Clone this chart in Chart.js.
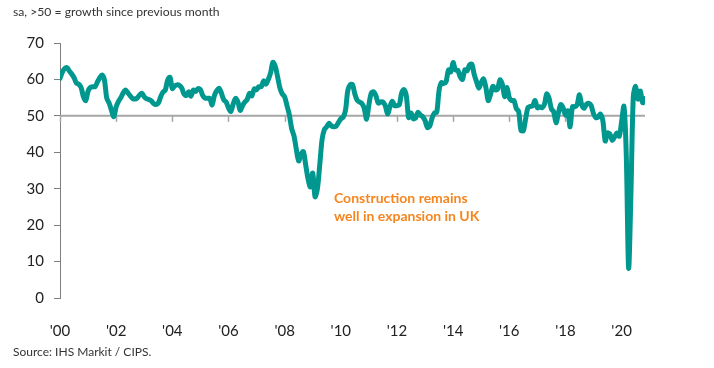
<!DOCTYPE html>
<html>
<head>
<meta charset="utf-8">
<script src="https://cdn.jsdelivr.net/npm/chart.js@4.4.1/dist/chart.umd.min.js"></script>
<style>
  html, body { margin: 0; padding: 0; background: #fff; }
  #wrap { position: relative; width: 714px; height: 368px; overflow: hidden; }
  canvas { position: absolute; left: 0; top: 0; }
  .txt { position: absolute; font-family: Lato, "Open Sans", sans-serif; color: #333; white-space: nowrap; }
  #sub { left: 13px; top: 4px; font-size: 12.2px; }
  #src { left: 13px; top: 344px; font-size: 12px; }
  #note { left: 334px; top: 189px; font-size: 14px; font-weight: bold; color: #F5861F; line-height: 18px; }
</style>
</head>
<body>
<div id="wrap">
  <canvas id="c" width="714" height="368"></canvas>
  <div class="txt" id="sub">sa, &gt;50 = growth since previous month</div>
  <div class="txt" id="note">Construction remains<br>well in expansion in UK</div>
  <div class="txt" id="src">Source: IHS Markit / CIPS.</div>
</div>
<script>
// UK construction PMI, monthly, Jan 2000 - Nov 2020 (sa)
const startYear = 2000;
const v2000 = [60.3, 62.0, 63.0, 63.2, 62.3, 61.5, 60.5, 59.0, 58.7, 57.8, 55.3, 54.2];
const v2001 = [56.8, 57.8, 58.0, 58.0, 59.3, 60.5, 61.2, 59.8, 54.8, 53.5, 51.5, 49.8];
const v2002 = [52.5, 54.0, 55.0, 56.3, 57.1, 56.3, 55.5, 54.8, 54.6, 54.9, 55.7, 56.2];
const v2003 = [55.2, 54.7, 54.5, 54.1, 53.4, 53.1, 53.5, 55.2, 56.5, 57.1, 59.8, 60.6];
const v2004 = [57.5, 58.2, 58.5, 58.4, 57.7, 56.0, 55.6, 56.6, 55.4, 57.1, 56.7, 57.5];
const v2005 = [57.2, 55.6, 54.9, 54.8, 54.8, 53.0, 55.6, 56.9, 57.6, 56.2, 54.4, 53.8];
const v2006 = [52.2, 51.2, 53.2, 54.8, 53.9, 51.5, 52.8, 53.8, 54.5, 56.2, 55.5, 57.4];
const v2007 = [57.2, 58.0, 58.0, 59.6, 58.7, 60.0, 61.8, 64.7, 63.6, 60.7, 57.6, 56.0];
const v2008 = [55.2, 52.8, 50.3, 46.5, 44.5, 40.8, 37.6, 39.5, 40.2, 36.5, 32.7, 30.5];
const v2009 = [34.3, 27.8, 30.0, 36.5, 43.5, 46.3, 47.0, 48.0, 47.2, 47.0, 47.2, 48.2];
const v2010 = [49.2, 49.6, 51.5, 57.0, 58.5, 58.6, 56.0, 54.3, 53.8, 53.4, 52.1, 49.1];
const v2011 = [53.0, 56.2, 56.6, 55.5, 53.5, 53.8, 53.8, 52.8, 50.5, 52.5, 54.0, 52.8];
const v2012 = [52.8, 53.0, 56.3, 57.2, 55.5, 49.5, 50.8, 49.2, 49.5, 51.0, 50.2, 49.8];
const v2013 = [48.7, 46.8, 47.2, 49.4, 50.8, 51.0, 57.0, 59.1, 58.9, 59.4, 62.6, 62.1];
const v2014 = [64.6, 62.6, 62.5, 60.8, 60.0, 62.6, 62.4, 64.0, 64.2, 61.4, 59.4, 57.6];
const v2015 = [59.1, 60.1, 57.8, 54.2, 55.9, 58.1, 57.1, 57.3, 59.9, 58.8, 55.3, 57.8];
const v2016 = [55.0, 54.2, 54.2, 52.0, 51.2, 46.0, 45.9, 49.2, 52.3, 52.6, 52.8, 54.2];
const v2017 = [52.2, 52.5, 52.2, 53.1, 56.0, 54.8, 51.9, 51.1, 48.1, 50.8, 53.1, 52.2];
const v2018 = [50.2, 51.4, 47.0, 52.5, 52.5, 53.1, 55.8, 52.9, 52.1, 53.2, 53.4, 52.8];
const v2019 = [50.6, 49.5, 49.7, 50.5, 48.6, 43.1, 45.3, 45.0, 43.3, 44.2, 45.3, 44.4];
const v2020 = [48.4, 52.6, 39.3, 8.2, 28.9, 55.3, 58.1, 54.6, 56.8, 53.6, 54.7];

const yTicks = [0, 10, 20, 30, 40, 50, 60, 70];
const xTickYears = [2000, 2002, 2004, 2006, 2008, 2010, 2012, 2014, 2016, 2018, 2020];
const thresholdValue = 50;

const allYears = [v2000, v2001, v2002, v2003, v2004, v2005, v2006, v2007, v2008, v2009,
  v2010, v2011, v2012, v2013, v2014, v2015, v2016, v2017, v2018, v2019, v2020];
const values = [].concat(...allYears);
const points = values.map((v, i) => ({ x: startYear + i / 12, y: v }));
const lastX = startYear + (values.length - 1) / 12;

const refLine = {
  id: 'refLine',
  beforeDatasetsDraw(chart) {
    const { ctx, chartArea, scales } = chart;
    const y = scales.y.getPixelForValue(thresholdValue);
    ctx.save();
    ctx.strokeStyle = '#a6a6a6';
    ctx.lineWidth = 2;
    ctx.beginPath();
    ctx.moveTo(chartArea.left, y);
    ctx.lineTo(chartArea.right, y);
    ctx.stroke();
    ctx.lineWidth = 1.5;
    xTickYears.forEach(yr => {
      const x = Math.round(scales.x.getPixelForValue(yr)) + 0.5;
      ctx.beginPath();
      ctx.moveTo(x, y);
      ctx.lineTo(x, y + 6);
      ctx.stroke();
    });
    ctx.restore();
  }
};

new Chart(document.getElementById('c'), {
  type: 'line',
  data: {
    datasets: [{
      data: points,
      borderColor: '#00978F',
      borderWidth: 5,
      pointRadius: 0,
      tension: 0.3,
      borderJoinStyle: 'round',
      borderCapStyle: 'round',
      fill: false
    }]
  },
  options: {
    responsive: false,
    animation: false,
    devicePixelRatio: 1,
    layout: { padding: { left: 0, top: 43, right: 69, bottom: 30 } },
    plugins: { legend: { display: false }, tooltip: { enabled: false } },
    scales: {
      x: {
        type: 'linear',
        min: startYear,
        max: lastX,
        afterFit(s) { s.height = 40; },
        afterBuildTicks(s) { s.ticks = xTickYears.map(v => ({ value: v })); },
        border: { display: false },
        grid: { display: false },
        ticks: {
          padding: 16,
          maxRotation: 0,
          autoSkip: false,
          color: '#222',
          font: { family: 'Lato', size: 15 },
          callback: v => "'" + String(v).slice(2)
        }
      },
      y: {
        min: 0,
        max: 70,
        afterFit(s) { s.width = 60; },
        afterBuildTicks(s) { s.ticks = yTicks.map(v => ({ value: v })); },
        border: { display: true, color: '#7f7f7f', width: 1 },
        grid: { drawOnChartArea: false, drawTicks: true, tickLength: 6, color: '#7f7f7f' },
        ticks: {
          padding: 10,
          color: '#222',
          font: { family: 'Lato', size: 15 }
        }
      }
    }
  },
  plugins: [refLine]
});
</script>
</body>
</html>
